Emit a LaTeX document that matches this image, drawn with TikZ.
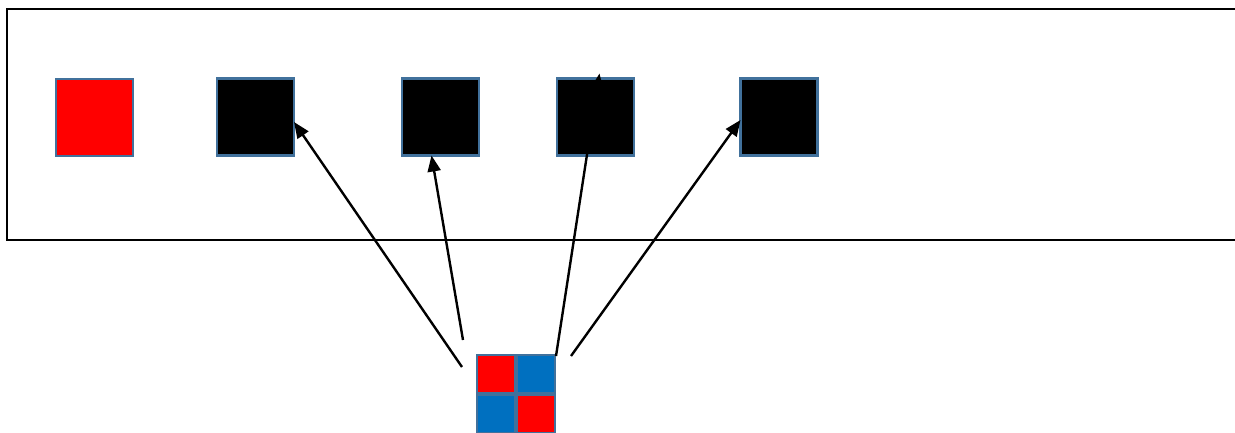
\documentclass[tikz,border=0pt]{standalone}
\usetikzlibrary{arrows.meta}
\definecolor{edgeblue}{HTML}{41719C}
\definecolor{cellblue}{HTML}{0070C0}
\begin{document}
\begin{tikzpicture}[x=1pt,y=-1pt,
  sq/.style={draw=edgeblue,line width=2.2pt,minimum size=77pt,inner sep=0pt,outer sep=0pt},
  cell/.style={draw=edgeblue,line width=1.8pt,minimum size=38.5pt,inner sep=0pt,outer sep=0pt},
  arr/.style={line width=2.4pt,-{Triangle[length=16pt,width=13pt]}}]
\useasboundingbox (0,0) rectangle (1235,432);
\clip (0,0) rectangle (1235,432);
\fill[white] (0,0) rectangle (1235,432);
\draw[line width=2.8pt] (7,9) rectangle (1250,240);
\node[sq,fill=red] (r) at (94.5,117.5) {};
\node[sq,fill=black] (s1) at (255.5,117) {};
\node[sq,fill=black] (s2) at (440.5,117) {};
\node[sq,fill=black] (s3) at (595.5,117) {};
\node[sq,fill=black] (s4) at (779,117) {};
\node[cell,fill=red] (c1) at (496,374) {};
\node[cell,fill=cellblue] (c2) at (536,374) {};
\node[cell,fill=cellblue] (c3) at (496,414) {};
\node[cell,fill=red] (c4) at (536,414) {};
\coordinate (a1) at (462,367);
\coordinate (a2) at (463,340);
\coordinate (a3) at (556,356);
\coordinate (a4) at (571,356);
\draw[arr] (a1) -- ([yshift=-5pt]s1.east);
\draw[arr] (a2) -- ([xshift=-9pt]s2.south);
\draw[arr] (a3) -- ([xshift=4pt,yshift=5pt]s3.north);
\draw[arr] (a4) -- ([yshift=-3pt]s4.west);
\end{tikzpicture}
\end{document}
